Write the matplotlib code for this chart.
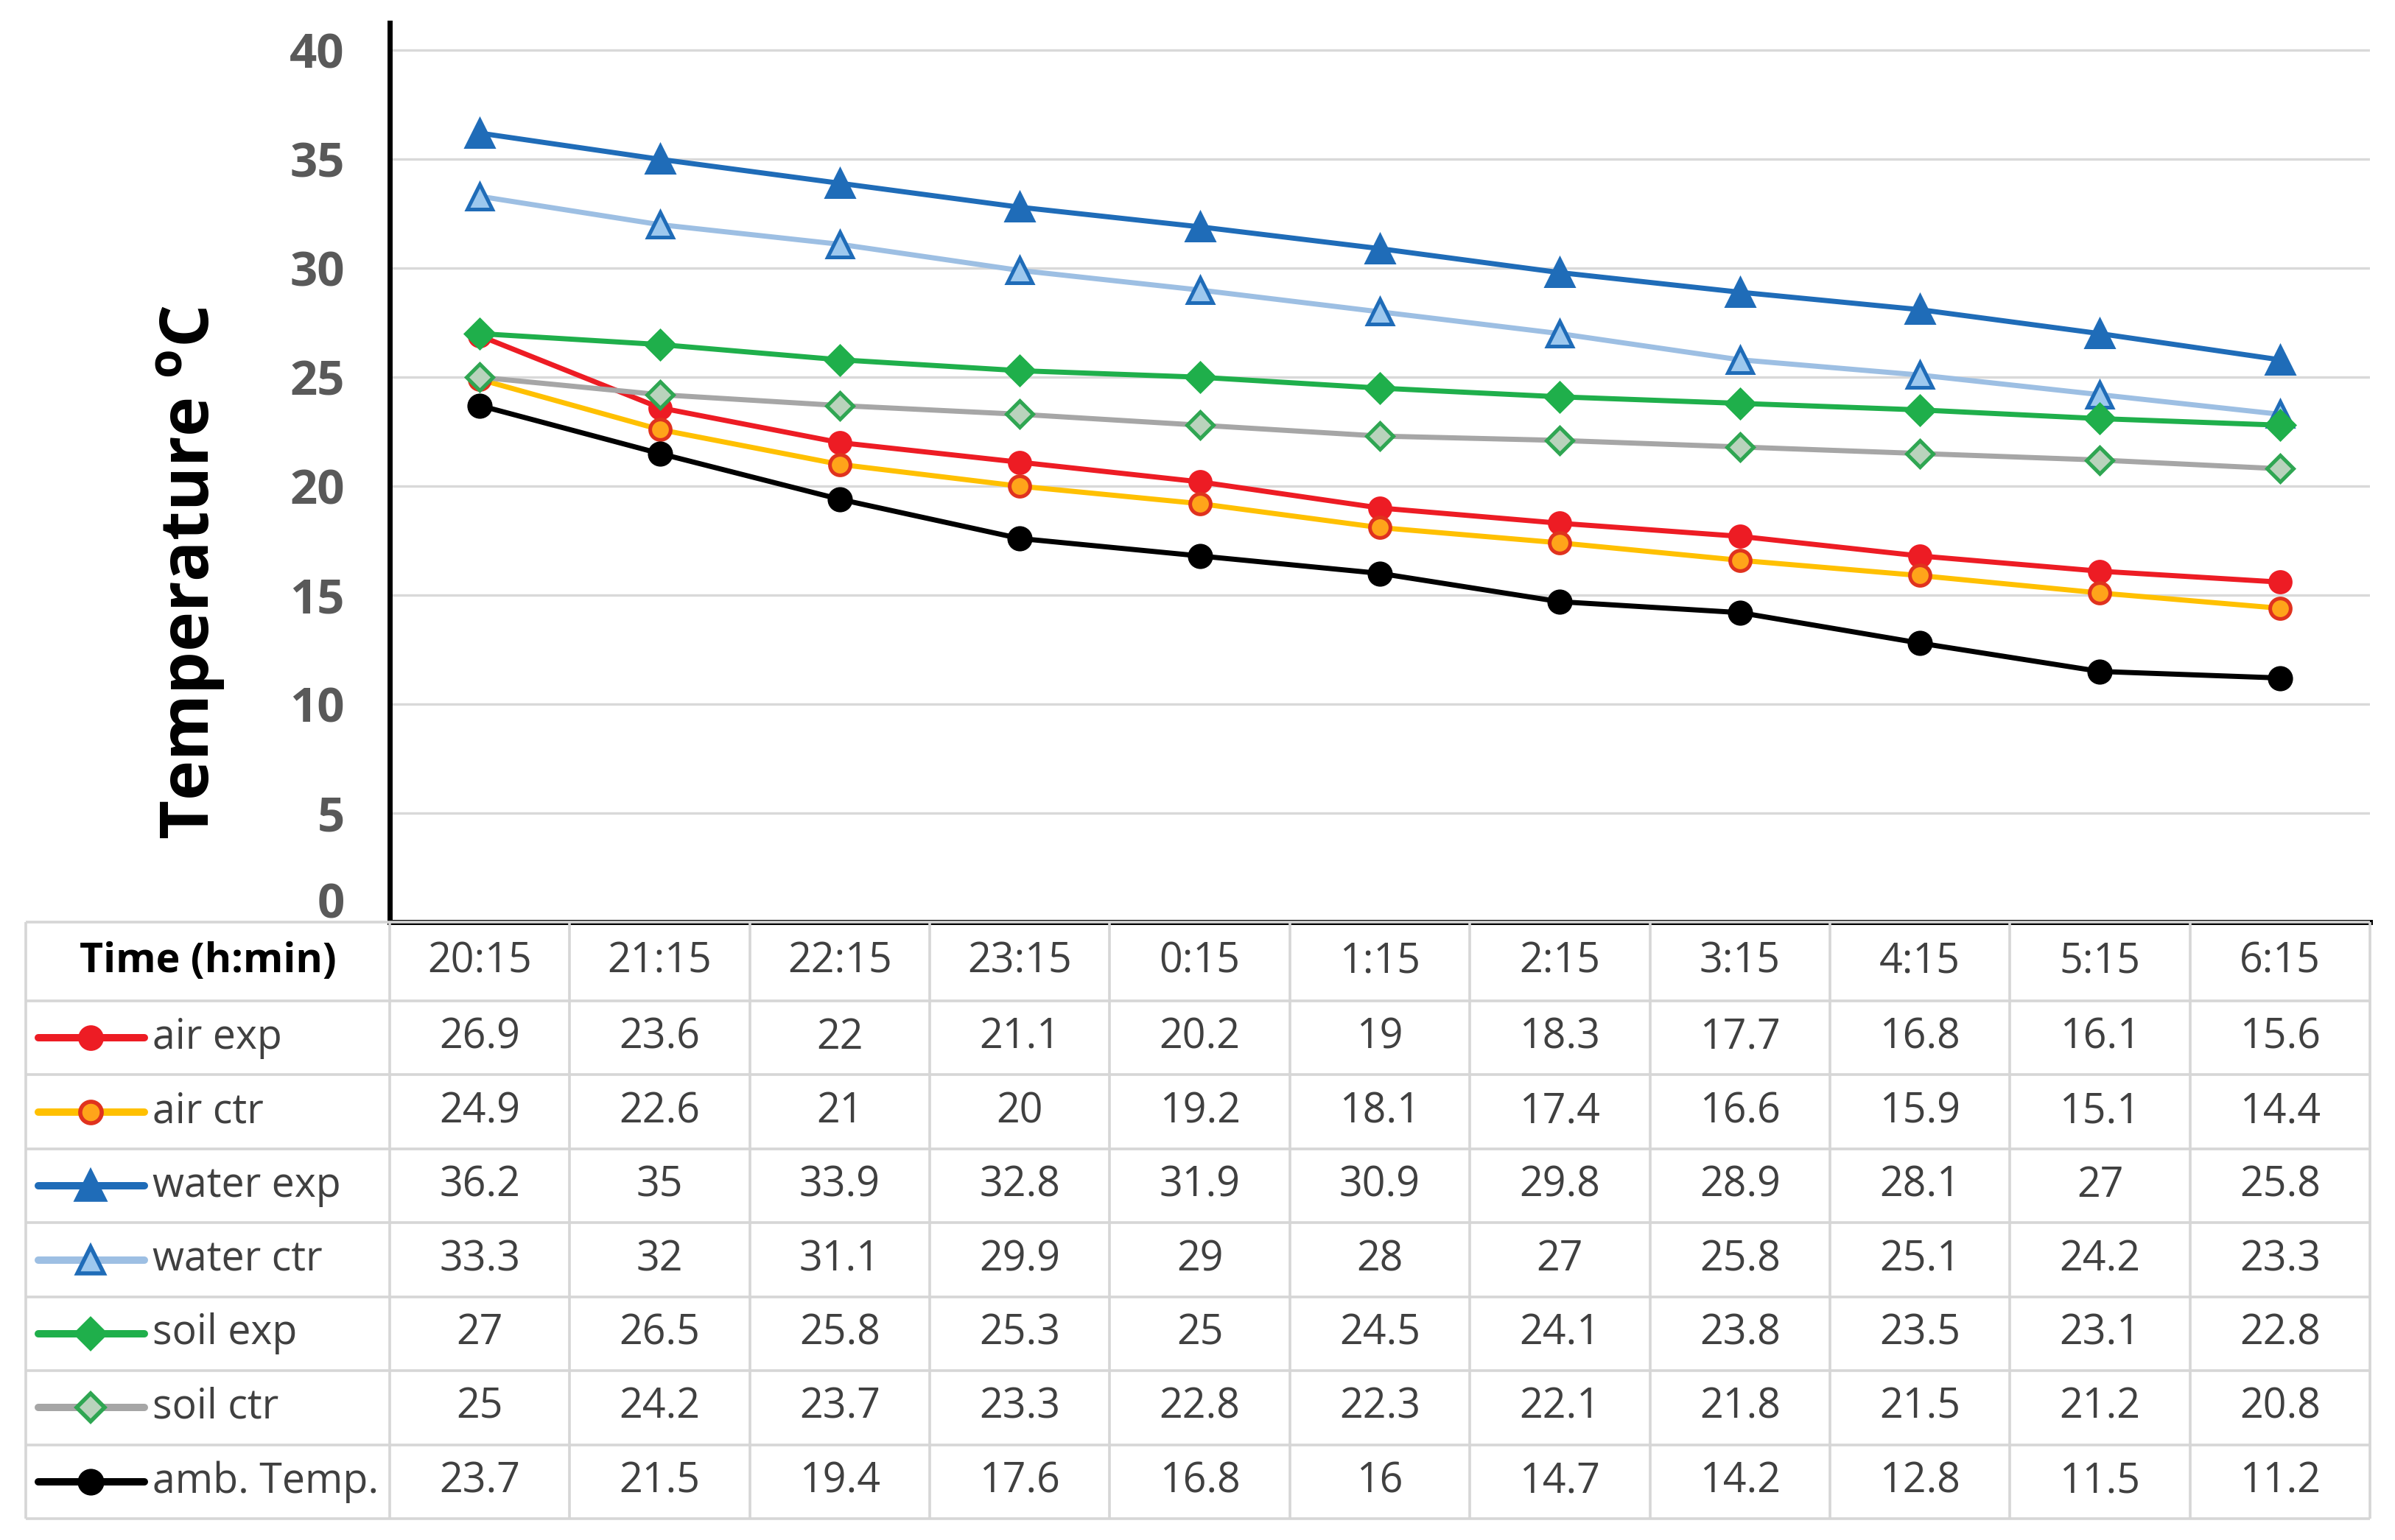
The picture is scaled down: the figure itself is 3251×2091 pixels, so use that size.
import numpy as np
import matplotlib
matplotlib.use('Agg')
from matplotlib import pyplot as plt
from matplotlib import rcParams
from matplotlib.transforms import ScaledTranslation

rcParams['font.family'] = ['Open Sans', 'DejaVu Sans']
rcParams['mathtext.fontset'] = 'custom'
rcParams['mathtext.bf'] = 'Open Sans:bold'

times = ['20:15', '21:15', '22:15', '23:15', '0:15', '1:15', '2:15', '3:15', '4:15', '5:15', '6:15']
air_exp = [26.9, 23.6, 22, 21.1, 20.2, 19, 18.3, 17.7, 16.8, 16.1, 15.6]
air_ctr = [24.9, 22.6, 21, 20, 19.2, 18.1, 17.4, 16.6, 15.9, 15.1, 14.4]
water_exp = [36.2, 35, 33.9, 32.8, 31.9, 30.9, 29.8, 28.9, 28.1, 27, 25.8]
water_ctr = [33.3, 32, 31.1, 29.9, 29, 28, 27, 25.8, 25.1, 24.2, 23.3]
soil_exp = [27, 26.5, 25.8, 25.3, 25, 24.5, 24.1, 23.8, 23.5, 23.1, 22.8]
soil_ctr = [25, 24.2, 23.7, 23.3, 22.8, 22.3, 22.1, 21.8, 21.5, 21.2, 20.8]
amb_temp = [23.7, 21.5, 19.4, 17.6, 16.8, 16, 14.7, 14.2, 12.8, 11.5, 11.2]

names = ['air exp', 'air ctr', 'water exp', 'water ctr', 'soil exp', 'soil ctr', 'amb. Temp.']
series = [air_exp, air_ctr, water_exp, water_ctr, soil_exp, soil_ctr, amb_temp]

# line colour, marker, marker face, marker edge, marker size
styles = [
    dict(color='#ED1C24', marker='o', mfc='#ED1C24', mec='#ED1C24', ms=10),
    dict(color='#FFC000', marker='o', mfc='#FFA41A', mec='#E0321E', ms=10),
    dict(color='#1F6CB8', marker='^', mfc='#1F6CB8', mec='#1F6CB8', ms=13),
    dict(color='#9DBFE3', marker='^', mfc='#9DC8EE', mec='#1F6CB8', ms=12),
    dict(color='#1FAF4B', marker='D', mfc='#1FAF4B', mec='#1FAF4B', ms=9.5),
    dict(color='#A6A6A6', marker='D', mfc='#B9D3BC', mec='#2FA652', ms=9),
    dict(color='#000000', marker='o', mfc='#000000', mec='#000000', ms=10.5),
]

W, H = 3251, 2091
fig = plt.figure(figsize=(W / 200, H / 200), dpi=200)

# pixel layout
px_left, px_right = 529, 3217
px_top, px_zero = 31, 1252
px_tab_left, px_tab_bottom = 35, 2062
px_header_h, px_row_h = 107, 100.4

ax = fig.add_axes([px_left / W, 1 - px_zero / H, (px_right - px_left) / W, (px_zero - px_top) / H])
x = np.arange(len(times)) + 0.5
for vals, st in zip(series, styles):
    ax.plot(x, vals, color=st['color'], lw=2.5, marker=st['marker'], ms=st['ms'],
            mfc=st['mfc'], mec=st['mec'], mew=1.8, solid_joinstyle='round', clip_on=False)

ax.set_xlim(0, len(times))
ax.set_ylim(0, 41.26)
ax.set_yticks(np.arange(0, 41, 5))
ax.set_xticks([])
ax.yaxis.grid(True, color='#D9D9D9', lw=1.2)
ax.set_axisbelow(True)
for s in ['top', 'right']:
    ax.spines[s].set_visible(False)
for s in ['left', 'bottom']:
    ax.spines[s].set_linewidth(2.5)
    ax.spines[s].set_color('black')
    ax.spines[s].set_zorder(5)
ax.tick_params(axis='y', length=0, pad=22, labelsize=23.5, labelcolor='#595959')
ylabels = ax.get_yticklabels()
for lab in ylabels:
    lab.set_fontweight('bold')
# the zero label sits just above the table, as in the original
ylabels[0].set_transform(ylabels[0].get_transform() + ScaledTranslation(0, 30 / 200, fig.dpi_scale_trans))

fig.text(259 / W, 1 - 777 / H, r'Temperature $^{\mathbf{o}}$C', rotation=90,
         ha='center', va='center', fontsize=33, fontweight='bold', color='black')

# data table below the plot
col_w = (px_right - px_left) / len(times)
first_w = (px_left - px_tab_left) / col_w
h0 = px_header_h / px_row_h
row_edges = np.concatenate([[0], h0 + np.arange(len(series) + 1)])
tax = fig.add_axes([px_tab_left / W, 1 - px_tab_bottom / H, (px_right - px_tab_left) / W,
                    (px_tab_bottom - px_zero) / H])
tax.set_xlim(-first_w, len(times))
tax.set_ylim(row_edges[-1], 0)
tax.set_axis_off()

grid_c = '#D6D6D6'
tax.hlines(row_edges, -first_w, len(times), color=grid_c, lw=1.3, clip_on=False)
tax.vlines(np.concatenate([[-first_w], np.arange(len(times) + 1)]), 0, row_edges[-1], color=grid_c,
           lw=1.3, clip_on=False)

tax.text(-first_w / 2, h0 / 2, 'Time (h:min)', ha='center', va='center', fontsize=20,
         fontweight='bold', color='black')
for j, t in enumerate(times):
    tax.text(j + 0.5, h0 / 2, t, ha='center', va='center', fontsize=20, color='#404040')

def px2x(p):
    return -first_w + (p - px_tab_left) / col_w

for i, (name, vals, st) in enumerate(zip(names, series, styles)):
    yy = h0 + i + 0.5
    tax.plot([px2x(52), px2x(196)], [yy, yy], color=st['color'], lw=3.6,
             solid_capstyle='round', clip_on=False)
    tax.plot([px2x(123)], [yy], marker=st['marker'], ms=st['ms'] * 1.05, mfc=st['mfc'],
             mec=st['mec'], mew=2.0, ls='none', clip_on=False)
    tax.text(px2x(207), yy, name, ha='left', va='center', fontsize=20, color='#404040')
    for j, v in enumerate(vals):
        tax.text(j + 0.5, yy, f'{v:g}', ha='center', va='center', fontsize=20, color='#404040')

fig.savefig('out.png', dpi=200)
